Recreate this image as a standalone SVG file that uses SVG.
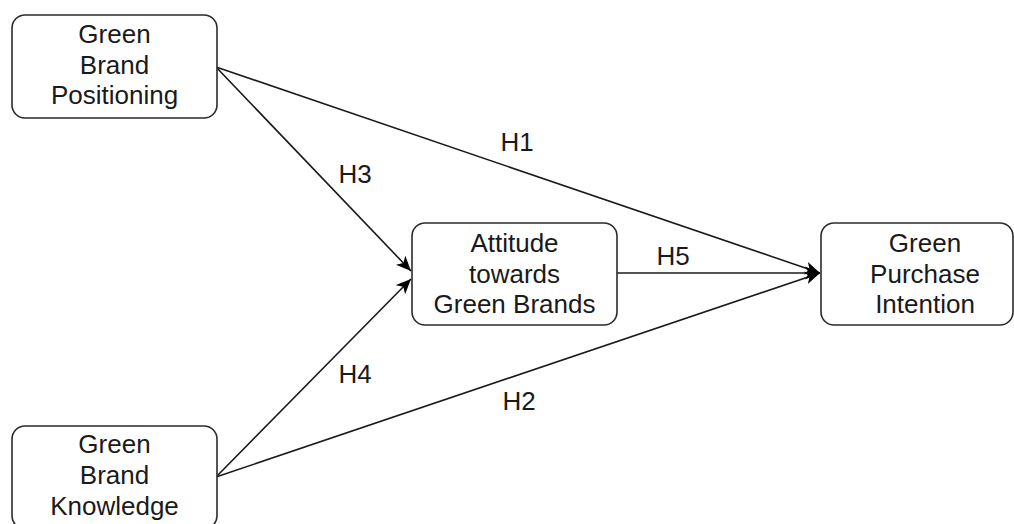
<svg xmlns="http://www.w3.org/2000/svg" width="1014" height="524" viewBox="0 0 1014 524">
<style>
.box{fill:#ffffff;stroke:#2b2b2b;stroke-width:1.6}
.t{font-family:"Liberation Sans",Arial,Helvetica,sans-serif;font-size:26px;fill:#1a1a1a;text-anchor:middle}
.c{fill:none;stroke:#1a1a1a;stroke-width:1.6}
</style>
<defs>
<marker id="arr" markerUnits="userSpaceOnUse" markerWidth="18" markerHeight="14" refX="15" refY="7" orient="auto">
<path d="M0,0.5 L15,7 L0,13.5 L4,7 Z" fill="#000"/>
</marker>
</defs>
<rect width="1014" height="524" fill="#ffffff"/>
<g id="connectors">
<line class="c" x1="216" y1="67" x2="820" y2="273" marker-end="url(#arr)"/>
<line class="c" x1="216" y1="477" x2="820" y2="273" marker-end="url(#arr)"/>
<line class="c" x1="216" y1="67" x2="411" y2="271" marker-end="url(#arr)"/>
<line class="c" x1="216" y1="477" x2="411" y2="279" marker-end="url(#arr)"/>
<line class="c" x1="617" y1="273" x2="820" y2="273" marker-end="url(#arr)"/>
<text class="t" x="517" y="151">H1</text>
<text class="t" x="519" y="410">H2</text>
<text class="t" x="355" y="183">H3</text>
<text class="t" x="355" y="383">H4</text>
<text class="t" x="673" y="265">H5</text>
</g>
<g id="gbp">
<rect class="box" x="12" y="15" width="205" height="103" rx="13"/>
<text class="t" x="114.5" y="43">Green</text>
<text class="t" x="114.5" y="74">Brand</text>
<text class="t" x="114.5" y="104">Positioning</text>
</g>
<g id="gbk">
<rect class="box" x="12" y="426" width="205" height="103" rx="13"/>
<text class="t" x="114.5" y="453">Green</text>
<text class="t" x="114.5" y="484">Brand</text>
<text class="t" x="114.5" y="515">Knowledge</text>
</g>
<g id="atg">
<rect class="box" x="412" y="223" width="205" height="102" rx="13"/>
<text class="t" x="514.5" y="252">Attitude</text>
<text class="t" x="514.5" y="283">towards</text>
<text class="t" x="514.5" y="313">Green Brands</text>
</g>
<g id="gpi">
<rect class="box" x="821" y="223" width="192" height="102" rx="13"/>
<text class="t" x="925" y="252">Green</text>
<text class="t" x="925" y="283">Purchase</text>
<text class="t" x="925" y="313">Intention</text>
</g>
</svg>
